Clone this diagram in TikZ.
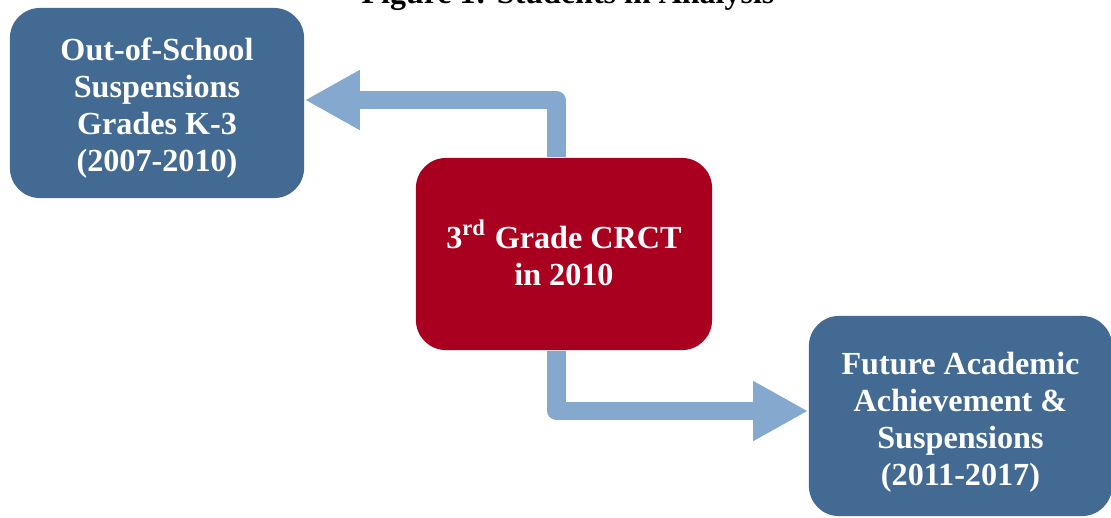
\documentclass[tikz,border=0pt]{standalone}
\usepackage{fontspec}
\setmainfont{Liberation Serif}
\usetikzlibrary{arrows.meta}
\definecolor{boxblue}{HTML}{426A92}
\definecolor{boxred}{HTML}{AA0020}
\definecolor{arrowblue}{HTML}{85A9CE}
\tikzset{
  box/.style={rectangle, rounded corners=0.3cm, inner sep=0pt},
  boxtext/.style={align=center, text=white, inner sep=0pt,
    font=\fontsize{9.15}{10.55}\selectfont\bfseries},
  conn/.style={draw=arrowblue, line width=0.18cm, line join=round,
    -{Triangle[length=0.55cm, width=0.56cm]}},
}
\begin{document}
\begin{tikzpicture}[x=0.01cm,y=-0.01cm]
\useasboundingbox (0,0) rectangle (1111,517);
\node[font=\fontsize{9.1}{11}\selectfont\bfseries, anchor=base] (title) at (568,3) {Figure 1: Students in Analysis};
\node[box, fill=boxblue, minimum width=2.94cm, minimum height=1.9cm,
  label={[boxtext, yshift=-0.05cm]center:{Out-of-School\\Suspensions\\Grades K-3\\(2007-2010)}}] (l) at (157,103) {};
\node[box, fill=boxred, minimum width=2.96cm, minimum height=1.92cm,
  label={[boxtext, yshift=0.01cm]center:{3\textsuperscript{rd} Grade CRCT\\in 2010}}] (c) at (564,254) {};
\node[box, fill=boxblue, minimum width=3.03cm, minimum height=2.0cm,
  label={[boxtext, yshift=-0.06cm]center:{Future Academic\\Achievement \&\\Suspensions\\(2011-2017)}}] (r) at (960.5,416) {};
\draw[conn] ([xshift=-0.075cm]c.north) |- ([yshift=0.03cm]l.east);
\draw[conn] ([xshift=-0.075cm]c.south) |- ([yshift=0.05cm]r.west);
\end{tikzpicture}
\end{document}
